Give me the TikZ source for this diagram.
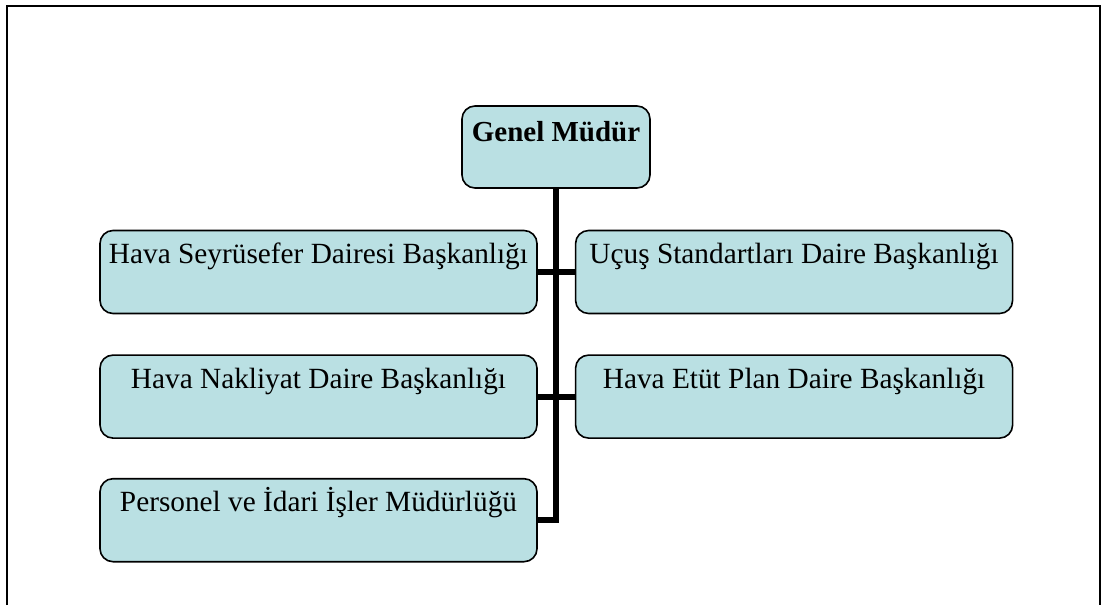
\documentclass[tikz,border=0pt]{standalone}
\usepackage{fontspec}
\setmainfont{Liberation Serif}
\usetikzlibrary{positioning}
\definecolor{boxfill}{RGB}{186,224,227}

\begin{document}
\begin{tikzpicture}[x=1pt, y=-1pt,
    unitbox/.style={draw, rectangle, rounded corners=13pt, fill=boxfill,
      line width=1.6pt, inner sep=0pt, minimum width=437pt, minimum height=83pt,
      text height=33pt, text depth=50pt, font=\fontsize{29.3}{34}\selectfont},
    headbox/.style={unitbox, minimum width=188pt, minimum height=82pt,
      text height=35pt, text depth=47pt, font=\fontsize{29}{34}\selectfont\bfseries},
    conn/.style={line width=6pt, line join=miter}]
      \useasboundingbox (0,0) rectangle (1105,605);
      % frame
      \draw[line width=2pt] (7,605) -- (7,6) -- (1100,6) -- (1100,605);
      \node[headbox] (gm) at (556,147) {Genel Müdür};
      \node[unitbox] (hsd) at (318.5,272) {Hava Seyrüsefer Dairesi Başkanlığı};
      \node[unitbox, right=37pt of hsd]
        (usd) {Uçuş Standartları Daire Başkanlığı};
      \node[unitbox, below=40pt of hsd]
        (hnd) {Hava Nakliyat Daire Başkanlığı};
      \node[unitbox, right=37pt of hnd]
        (hed) {Hava Etüt Plan Daire Başkanlığı};
      \node[unitbox, below=39pt of hnd]
        (pim) {Personel ve İdari İşler Müdürlüğü};
      % connectors
      \draw[conn] (gm.south) |- (pim.east);
      \draw[conn] (hsd.east) -- (usd.west);
      \draw[conn] (hnd.east) -- (hed.west);
    \end{tikzpicture}
\end{document}
